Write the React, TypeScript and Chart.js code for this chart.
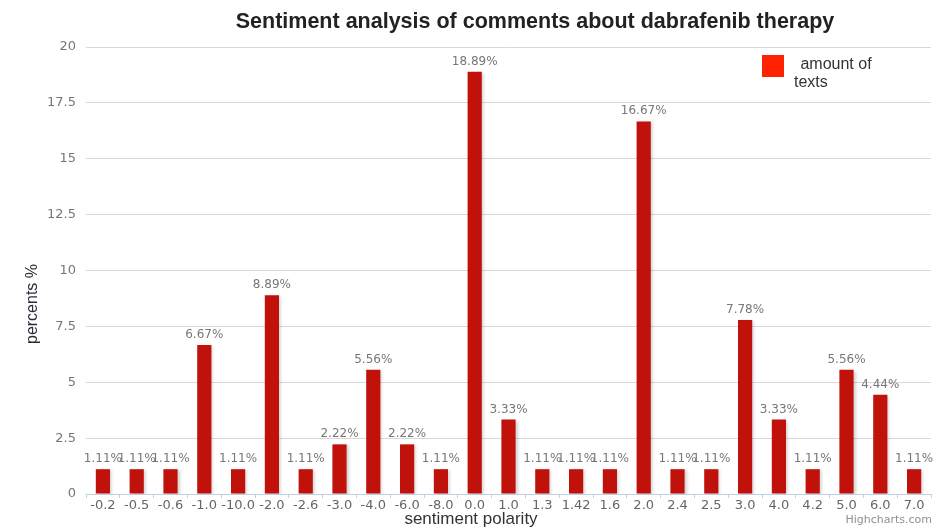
import React, { useEffect, useRef } from "react";
import { Chart, registerables } from "chart.js";

Chart.register(...registerables);

const categories = ["-0.2", "-0.5", "-0.6", "-1.0", "-10.0", "-2.0", "-2.6", "-3.0", "-4.0", "-6.0", "-8.0", "0.0", "1.0", "1.3", "1.42", "1.6", "2.0", "2.4", "2.5", "3.0", "4.0", "4.2", "5.0", "6.0", "7.0"];
const amountOfTexts = [1.11, 1.11, 1.11, 6.67, 1.11, 8.89, 1.11, 2.22, 5.56, 2.22, 1.11, 18.89, 3.33, 1.11, 1.11, 1.11, 16.67, 1.11, 1.11, 7.78, 3.33, 1.11, 5.56, 4.44, 1.11];
const yTicks = [0, 2.5, 5, 7.5, 10, 12.5, 15, 17.5, 20];
const titleText = "Sentiment analysis of comments about dabrafenib therapy";
const seriesName = "amount of texts";
const xTitle = "sentiment polarity";
const yTitle = "percents %";
const credit = "Highcharts.com";

const FONT = "'Liberation Sans', Arial, sans-serif";
const TICK_FONT = "'DejaVu Sans', 'Liberation Sans', sans-serif";

const decorPlugin = {
  id: "decor",
  beforeDatasetsDraw(chart: any) {
    const ctx = chart.ctx;
    ctx.save();
    ctx.shadowColor = "rgba(0,0,0,0.18)";
    ctx.shadowOffsetX = 2;
    ctx.shadowOffsetY = 1;
    ctx.shadowBlur = 3;
  },
  afterDatasetsDraw(chart: any) {
    const ctx = chart.ctx;
    ctx.restore();
    const meta = chart.getDatasetMeta(0);
    const data = chart.data.datasets[0].data as number[];
    ctx.save();
    ctx.font = `12px ${TICK_FONT}`;
    ctx.fillStyle = "#777777";
    ctx.textAlign = "center";
    ctx.textBaseline = "alphabetic";
    meta.data.forEach((bar: any, i: number) => {
      ctx.fillText(data[i].toFixed(2) + "%", bar.x, bar.y - 7);
    });
    ctx.restore();
  },
  afterDraw(chart: any) {
    const ctx = chart.ctx;
    ctx.save();
    // title
    ctx.font = `bold 21.5px ${FONT}`;
    ctx.fillStyle = "#222222";
    ctx.textAlign = "center";
    ctx.textBaseline = "middle";
    ctx.fillText(titleText, 535, 22);
    // x title
    ctx.font = `17px ${FONT}`;
    ctx.fillStyle = "#333333";
    ctx.fillText(xTitle, 471, 519);
    // y title
    ctx.save();
    ctx.translate(33, 304);
    ctx.rotate(-Math.PI / 2);
    ctx.font = `16px ${FONT}`;
    ctx.fillStyle = "#2a2a3a";
    ctx.fillText(yTitle, 0, 0);
    ctx.restore();
    // credit
    ctx.font = `11px ${TICK_FONT}`;
    ctx.fillStyle = "#909090";
    ctx.textAlign = "right";
    ctx.fillText(credit, 932, 520);
    // legend
    ctx.fillStyle = "#ff2200";
    ctx.fillRect(762, 55, 22, 22);
    ctx.font = `16px ${FONT}`;
    ctx.fillStyle = "#333333";
    ctx.textAlign = "left";
    ctx.textBaseline = "middle";
    const words = seriesName.split(" ");
    ctx.fillText(" " + words.slice(0, 2).join(" "), 796, 65);
    ctx.fillText(words.slice(2).join(" "), 794, 83);
    ctx.restore();
  },
};

export default function App() {
  const ref = useRef<HTMLCanvasElement | null>(null);
  useEffect(() => {
    document.body.style.margin = "0";
    const chart = new Chart(ref.current as HTMLCanvasElement, {
      type: "bar",
      data: {
        labels: categories,
        datasets: [
          {
            label: seriesName,
            data: amountOfTexts,
            backgroundColor: "#c0110b",
            borderWidth: 0,
            barPercentage: 0.42,
            categoryPercentage: 1,
          },
        ],
      },
      options: {
        animation: false,
        responsive: false,
        maintainAspectRatio: false,
        layout: { padding: { top: 47, right: 18, left: 0, bottom: 0 } },
        plugins: {
          legend: { display: false },
          title: { display: false },
          tooltip: { enabled: false },
        },
        scales: {
          x: {
            offset: true,
            grid: {
              offset: true,
              drawOnChartArea: false,
              drawTicks: true,
              tickLength: 4,
              color: "#c0d0e0",
            },
            border: { color: "#c0d0e0", width: 1 },
            ticks: {
              font: { family: TICK_FONT, size: 13 },
              color: "#666666",
              maxRotation: 0,
              autoSkip: false,
              padding: 0,
            },
            afterFit(scale: any) {
              scale.height = 36;
            },
          },
          y: {
            min: 0,
            max: 20,
            afterBuildTicks(scale: any) {
              scale.ticks = yTicks.map((v) => ({ value: v }));
            },
            grid: { color: "#d8d8d8", drawTicks: false },
            border: { display: false },
            ticks: {
              font: { family: TICK_FONT, size: 13 },
              color: "#777777",
              padding: 10,
              callback: (v: any) => String(v),
            },
            afterFit(scale: any) {
              scale.width = 86;
            },
          },
        },
      },
      plugins: [decorPlugin],
    });
    return () => chart.destroy();
  }, []);
  return (
    <div style={{ width: 949, height: 530, background: "#ffffff" }}>
      <canvas ref={ref} width={949} height={530} style={{ width: 949, height: 530 }} />
    </div>
  );
}
